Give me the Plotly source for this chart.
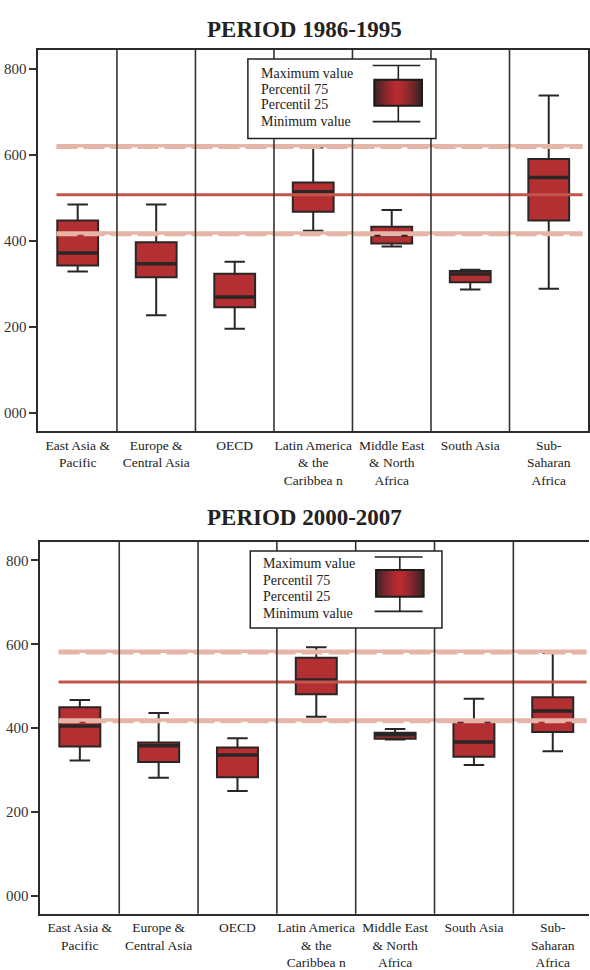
import plotly.graph_objects as go

W, H = 590, 970

categories = ["East Asia &<br>Pacific", "Europe &<br>Central Asia", "OECD",
              "Latin America<br>& the<br>Caribbea n", "Middle East<br>& North<br>Africa",
              "South Asia", "Sub-<br>Saharan<br>Africa"]
tick_vals = [0, 200, 400, 600, 800]
tick_text = ["000", "200", "400", "600", "800"]
legend_lines = ["Maximum value", "Percentil 75", "Percentil 25", "Minimum value"]

titles = ["PERIOD 1986-1995", "PERIOD 2000-2007"]

# Period 1986-1995
p1_upper = [485, 485, 352, 618, 472, 333, 739]
p1_q3 = [448, 397, 324, 536, 433, 330, 591]
p1_median = [372, 347, 270, 515, 414, 323, 548]
p1_q1 = [343, 316, 246, 468, 394, 304, 448]
p1_lower = [329, 227, 196, 424, 387, 287, 289]
p1_band_high = 620
p1_mean = 508
p1_band_low = 417

# Period 2000-2007
p2_upper = [467, 436, 376, 593, 398, 470, 580]
p2_q3 = [450, 366, 354, 568, 389, 415, 474]
p2_median = [405, 358, 336, 515, 384, 367, 441]
p2_q1 = [356, 319, 283, 481, 375, 332, 391]
p2_lower = [323, 282, 250, 427, 373, 312, 345]
p2_band_high = 582
p2_mean = 510
p2_band_low = 418

FONT = "Liberation Serif"
BOX_FILL = "#b42f31"
DARK = "#2b2626"
PINK = "#e7b5a8"
MEANRED = "#c2564c"

def px_x(p):
    return p / W

def px_y(p):
    return 1 - p / H

fig = go.Figure()
positions = list(range(len(categories)))

panels = [
    dict(upper=p1_upper, q3=p1_q3, med=p1_median, q1=p1_q1, lower=p1_lower,
         hi=p1_band_high, mean=p1_mean, lo=p1_band_low,
         xd=[38.5 / W, 589 / W], xr=[-0.5, 6.5], yd=[px_y(432.7), px_y(50)],
         title_y=29.5,
         leg=dict(box=(248.3, 59.3, 436.7, 139), tx=259, ty=[73.3, 89.3, 105, 122.3],
                  caps=(65.7, 122), capx=(373.3, 421), ibox=(375, 80, 422.7, 106), stem=399)),
    dict(upper=p2_upper, q3=p2_q3, med=p2_median, q1=p2_q1, lower=p2_lower,
         hi=p2_band_high, mean=p2_mean, lo=p2_band_low,
         xd=[40.5 / W, 1.0], xr=[-0.5, 6.46], yd=[px_y(916.7), px_y(543.3)],
         title_y=519.5,
         leg=dict(box=(250.7, 552.7, 442.7, 630), tx=261.7, ty=[565, 582.3, 598.3, 615],
                  caps=(558.7, 613.3), capx=(375.3, 423.3), ibox=(376.7, 571.7, 424.3, 598.7), stem=400.5)),
]

line_x = [-0.27, 6.43]
shapes = []
annotations = []

for k, p in enumerate(panels):
    xa = "x" if k == 0 else "x2"
    ya = "y" if k == 0 else "y2"
    fig.add_trace(go.Box(
        x=positions, q1=p["q1"], median=p["med"], q3=p["q3"],
        lowerfence=p["lower"], upperfence=p["upper"],
        width=0.52, whiskerwidth=0.5, fillcolor=BOX_FILL,
        line=dict(color=DARK, width=2), boxpoints=False,
        xaxis=xa, yaxis=ya, showlegend=False, hoverinfo="skip"))
    # thicker median marks
    mx, my = [], []
    for i, m in zip(positions, p["med"]):
        mx += [i - 0.255, i + 0.255, None]
        my += [m, m, None]
    fig.add_trace(go.Scatter(x=mx, y=my, mode="lines", line=dict(color=DARK, width=3.5),
                             xaxis=xa, yaxis=ya, showlegend=False, hoverinfo="skip"))
    # reference bands
    for v in (p["hi"], p["lo"]):
        fig.add_trace(go.Scatter(x=line_x, y=[v + 1.5, v + 1.5], mode="lines",
                                 line=dict(color=PINK, width=3.5),
                                 xaxis=xa, yaxis=ya, showlegend=False, hoverinfo="skip"))
        fig.add_trace(go.Scatter(x=line_x, y=[v - 2.5, v - 2.5], mode="lines",
                                 line=dict(color=PINK, width=3, dash="21px,6px"),
                                 xaxis=xa, yaxis=ya, showlegend=False, hoverinfo="skip"))
    fig.add_trace(go.Scatter(x=line_x, y=[p["mean"], p["mean"]], mode="lines",
                             line=dict(color=MEANRED, width=3),
                             xaxis=xa, yaxis=ya, showlegend=False, hoverinfo="skip"))

    # separators
    for i in positions[:-1]:
        shapes.append(dict(type="line", xref=xa, yref=ya + " domain", x0=i + 0.5, x1=i + 0.5,
                           y0=0, y1=1, line=dict(color="#333333", width=1.6), layer="above"))
    L = p["leg"]
    bx0, by0, bx1, by1 = L["box"]
    shapes.append(dict(type="rect", xref="paper", yref="paper", x0=px_x(bx0), x1=px_x(bx1),
                       y0=px_y(by1), y1=px_y(by0), fillcolor="white",
                       line=dict(color="#222222", width=1.5), layer="above"))
    # icon: whiskers
    c0, c1 = L["caps"]
    ix0, iy0, ix1, iy1 = L["ibox"]
    for cy in (c0, c1):
        shapes.append(dict(type="line", xref="paper", yref="paper", x0=px_x(L["capx"][0]),
                           x1=px_x(L["capx"][1]), y0=px_y(cy), y1=px_y(cy),
                           line=dict(color="#222222", width=1.6), layer="above"))
    shapes.append(dict(type="line", xref="paper", yref="paper", x0=px_x(L["stem"]), x1=px_x(L["stem"]),
                       y0=px_y(c0), y1=px_y(iy0), line=dict(color="#222222", width=1.6), layer="above"))
    shapes.append(dict(type="line", xref="paper", yref="paper", x0=px_x(L["stem"]), x1=px_x(L["stem"]),
                       y0=px_y(iy1), y1=px_y(c1), line=dict(color="#222222", width=1.6), layer="above"))
    # icon: gradient box
    n = 24
    dw = (ix1 - ix0) / n
    for j in range(n):
        t = abs((j + 0.5) / n - 0.5) * 2  # 0 center, 1 edge
        f = min(1.0, t ** 1.4)
        r = int(185 + (50 - 185) * f)
        g = int(44 + (36 - 44) * f)
        b = int(50 + (38 - 50) * f)
        shapes.append(dict(type="rect", xref="paper", yref="paper",
                           x0=px_x(ix0 + j * dw - 0.6), x1=px_x(ix0 + (j + 1) * dw + 0.6),
                           y0=px_y(iy1), y1=px_y(iy0), fillcolor=f"rgb({r},{g},{b})",
                           line=dict(width=0), layer="above"))
    shapes.append(dict(type="rect", xref="paper", yref="paper", x0=px_x(ix0), x1=px_x(ix1),
                       y0=px_y(iy1), y1=px_y(iy0), fillcolor="rgba(0,0,0,0)",
                       line=dict(color="#1e1a1a", width=2), layer="above"))
    for txt, ty in zip(legend_lines, L["ty"]):
        annotations.append(dict(text=txt, xref="paper", yref="paper", x=px_x(L["tx"]), y=px_y(ty),
                                xanchor="left", yanchor="middle", showarrow=False,
                                font=dict(family=FONT, size=14, color="#222222")))
    annotations.append(dict(text="<b>" + titles[k] + "</b>", xref="paper", yref="paper",
                            x=px_x(305), y=px_y(p["title_y"]), xanchor="center", yanchor="middle",
                            showarrow=False, font=dict(family=FONT, size=23, color="#222222")))

    xaxis = dict(domain=p["xd"], range=p["xr"], tickvals=positions, ticktext=categories,
                 showgrid=False, zeroline=False, showline=True, linecolor="#2b2b2b", linewidth=2,
                 mirror=True, ticks="", tickfont=dict(family=FONT, size=13.5, color="#222222"),
                 anchor=ya)
    yaxis = dict(domain=p["yd"], range=[-43, 845], tickvals=tick_vals, ticktext=tick_text,
                 showgrid=False, zeroline=False, showline=True, linecolor="#2b2b2b", linewidth=2,
                 mirror=(k == 0), ticks="outside", ticklen=7, tickwidth=1.5, tickcolor="#333333",
                 tickfont=dict(family=FONT, size=15, color="#333333"), anchor=xa)
    if k == 0:
        fig.update_layout(xaxis=xaxis, yaxis=yaxis)
    else:
        fig.update_layout(xaxis2=xaxis, yaxis2=yaxis)

fig.update_layout(width=W, height=H, margin=dict(l=0, r=0, t=0, b=0),
                  paper_bgcolor="white", plot_bgcolor="white",
                  shapes=shapes, annotations=annotations, showlegend=False)

fig.write_html("out.html", config={"displayModeBar": False},
               post_script="document.body.style.margin='0';document.body.style.overflow='hidden';")
